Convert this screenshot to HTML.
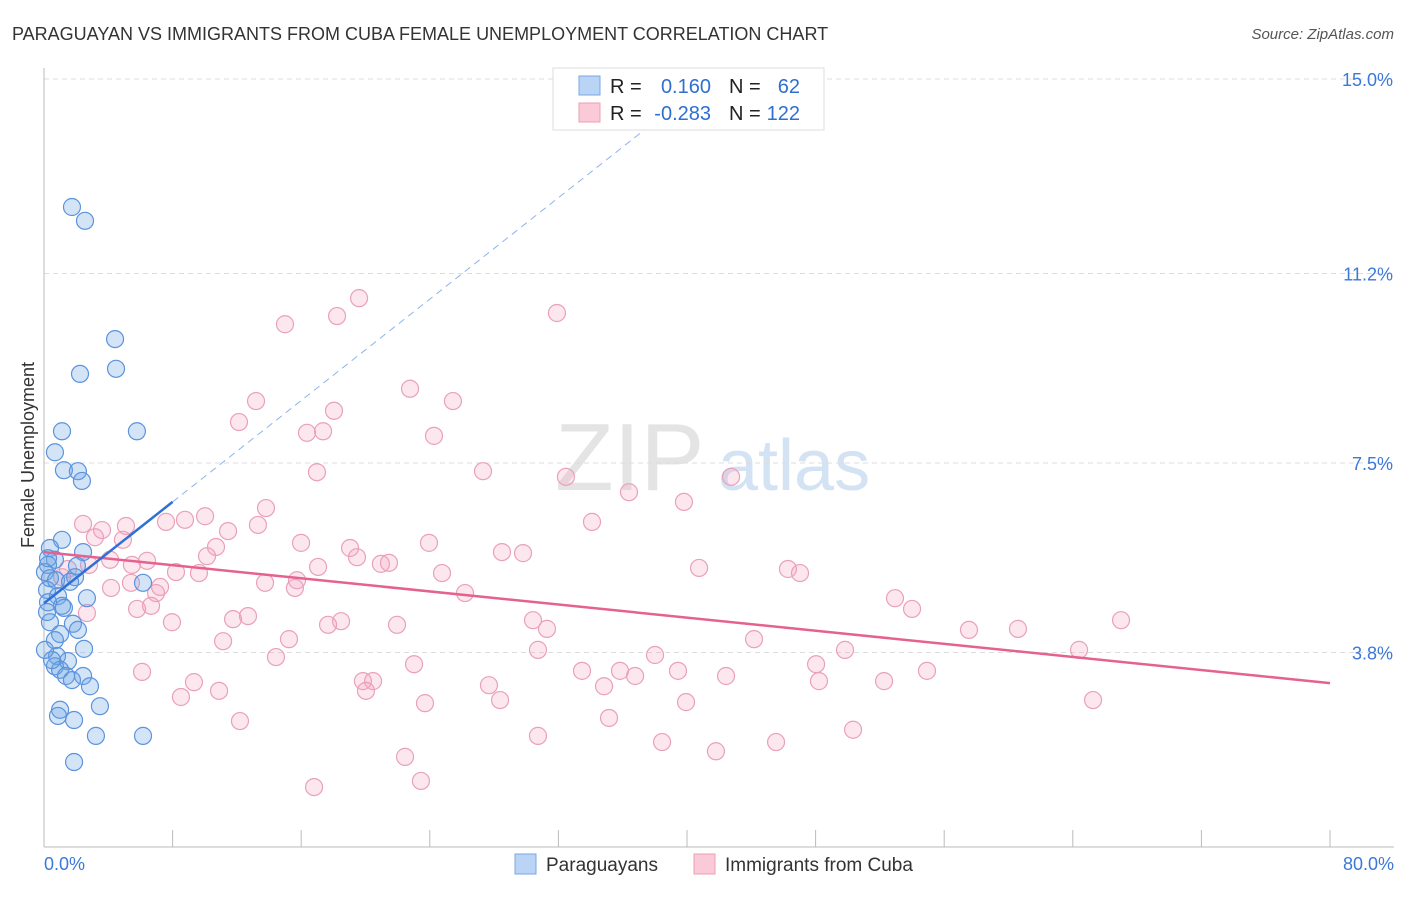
<!DOCTYPE html>
<html><head><meta charset="utf-8"><style>
body{margin:0;background:#fff;font-family:"Liberation Sans",sans-serif;}
svg text{font-family:"Liberation Sans",sans-serif;}
</style></head><body>
<svg id="chart" width="1406" height="892" viewBox="0 0 1406 892" xmlns="http://www.w3.org/2000/svg">
<text x="12" y="40" font-size="18" fill="#333">PARAGUAYAN VS IMMIGRANTS FROM CUBA FEMALE UNEMPLOYMENT CORRELATION CHART</text>
<text x="1394" y="39" font-size="15" fill="#555" text-anchor="end" font-style="italic">Source: ZipAtlas.com</text>
<g>
<text x="555" y="490" font-size="96" fill="#e4e4e4" font-family="Liberation Serif, serif">ZIP</text>
<text x="718" y="490" font-size="72" fill="#d3e3f3">atlas</text>
</g>
<g id="grid"></g>
<g id="axes"></g>
<g id="pts"></g>
<g id="trends"></g>
<text transform="translate(34,455) rotate(-90)" text-anchor="middle" font-size="18" fill="#333">Female Unemployment</text>
<g>
<rect x="553" y="68" width="271" height="62" fill="#fff" stroke="#ddd"/>
<rect x="579" y="76" width="21" height="19" fill="#b9d4f5" stroke="#7aa9e3"/>
<rect x="579" y="103" width="21" height="19" fill="#fbcad8" stroke="#ec9fb7"/>
<text x="610" y="93" font-size="20" fill="#222">R =</text>
<text x="711" y="93" font-size="20" fill="#2e6fd1" text-anchor="end">0.160</text>
<text x="729" y="93" font-size="20" fill="#222">N =</text>
<text x="800" y="93" font-size="20" fill="#2e6fd1" text-anchor="end">62</text>
<text x="610" y="120" font-size="20" fill="#222">R =</text>
<text x="711" y="120" font-size="20" fill="#2e6fd1" text-anchor="end">-0.283</text>
<text x="729" y="120" font-size="20" fill="#222">N =</text>
<text x="800" y="120" font-size="20" fill="#2e6fd1" text-anchor="end">122</text>
</g>
<g>
<rect x="515" y="854" width="21" height="20" fill="#b9d4f5" stroke="#7aa9e3"/>
<text x="546" y="871" font-size="19" fill="#333">Paraguayans</text>
<rect x="694" y="854" width="21" height="20" fill="#fbcad8" stroke="#ec9fb7"/>
<text x="725" y="871" font-size="19" fill="#333">Immigrants from Cuba</text>
</g>
</svg>
<script>
const yTicks=[3.8,7.5,11.2,15.0];
const yTickLabels=["3.8%","7.5%","11.2%","15.0%"];
const xTickValues=[0,8,16,24,32,40,48,56,64,72,80];
const xEndLabels=["0.0%","80.0%"];
const blueX=[1.74,2.55,4.42,4.48,2.24,5.78,1.12,0.68,1.24,2.11,2.36,1.12,0.37,2.43,0.68,0.25,0.06,2.05,1.93,0.37,0.19,0.87,2.67,1.12,0.25,0.37,1.80,1.00,2.11,0.68,2.49,0.81,1.49,0.68,1.00,2.43,1.37,1.74,2.86,3.48,1.00,0.87,1.87,3.23,6.16,1.87,6.16,0.19,0.50,0.06,0.75,0.25,1.62,1.24];
const blueY=[12.50,12.23,9.92,9.34,9.24,8.12,8.12,7.71,7.36,7.34,7.15,6.00,5.84,5.76,5.61,5.51,5.37,5.49,5.27,5.25,5.02,4.90,4.86,4.71,4.78,4.39,4.36,4.16,4.24,4.04,3.87,3.73,3.63,3.53,3.46,3.34,3.34,3.26,3.14,2.75,2.68,2.56,2.48,2.17,2.17,1.66,5.16,4.59,3.65,3.85,5.21,5.64,5.18,4.67];
const pinkX=[19.60,31.91,18.23,14.99,22.77,25.44,13.19,18.04,12.13,17.36,16.36,24.26,16.98,27.31,32.47,42.74,36.39,39.81,13.81,10.02,2.43,8.77,7.59,5.10,3.61,11.45,13.31,34.09,3.17,4.91,23.95,15.99,19.04,10.70,28.49,29.80,10.14,19.47,4.11,6.41,20.96,21.46,5.47,1.49,17.05,8.21,9.64,24.76,40.75,46.28,47.03,1.12,2.80,15.74,13.75,5.41,7.22,4.17,15.61,26.19,6.97,52.94,6.66,5.79,54.00,2.67,12.69,11.76,7.96,18.48,17.67,21.96,30.42,31.29,57.54,60.59,67.00,11.14,15.24,44.17,14.43,23.02,30.73,38.01,49.83,64.39,6.10,33.47,35.83,39.44,42.43,48.03,54.93,19.84,36.77,9.33,20.47,27.68,34.84,48.21,52.26,10.89,8.52,20.03,28.37,39.94,65.26,23.70,35.15,12.19,50.33,30.73,38.45,45.54,41.80,22.46,23.45,16.80];
const pinkY=[10.72,10.43,10.37,10.21,8.95,8.71,8.71,8.52,8.30,8.12,8.09,8.03,7.32,7.34,7.23,7.23,6.93,6.74,6.62,6.46,6.31,6.39,6.35,6.27,6.19,6.17,6.29,6.35,6.05,6.00,5.94,5.94,5.84,5.86,5.76,5.74,5.68,5.66,5.61,5.59,5.53,5.55,5.51,5.43,5.47,5.37,5.35,5.35,5.45,5.43,5.35,5.27,5.51,5.21,5.16,5.16,5.08,5.06,5.06,4.96,4.96,4.86,4.71,4.65,4.65,4.57,4.51,4.45,4.39,4.41,4.34,4.34,4.43,4.26,4.24,4.26,4.43,4.02,4.06,4.06,3.71,3.57,3.85,3.75,3.85,3.85,3.42,3.44,3.44,3.44,3.34,3.57,3.44,3.24,3.34,3.22,3.24,3.16,3.14,3.24,3.24,3.05,2.93,3.05,2.87,2.83,2.87,2.81,2.52,2.46,2.29,2.17,2.05,2.05,1.87,1.76,1.29,1.17];
const blueTrend=[[0,4.76],[8,6.74]];
const blueTrendExt=[[8,6.74],[38.5,14.29]];
const pinkTrend=[[0,5.76],[80,3.20]];

const NS="http://www.w3.org/2000/svg";
const X0=44,X1=1330,Y0=847,PPY=192/3.75;
function sx(v){return X0+(X1-X0)*v/80;}
function sy(v){return Y0-v*PPY;}
function mk(tag,attrs,parent){const e=document.createElementNS(NS,tag);for(const k in attrs)e.setAttribute(k,attrs[k]);parent.appendChild(e);return e;}
const grid=document.getElementById('grid'),axes=document.getElementById('axes'),pts=document.getElementById('pts'),tr=document.getElementById('trends');
yTicks.forEach((t,i)=>{
 const l=mk('line',{x1:X0,x2:1394,y1:sy(t),y2:sy(t),stroke:'#ddd','stroke-dasharray':'5,4'},grid);
 
 
 const tx=mk('text',{x:1393,y:sy(t)+7,'text-anchor':'end','font-size':18,fill:'#3b78d8'},grid);
 tx.textContent=yTickLabels[i];
 
 
});
const ax=mk('line',{x1:X0,x2:X0,y1:68,y2:847,stroke:'#bbb'},axes);


const bx=mk('line',{x1:X0,x2:1394,y1:847,y2:847,stroke:'#bbb'},axes);


xTickValues.forEach(v=>{
 const t=mk('line',{x1:sx(v),x2:sx(v),y1:830,y2:847,stroke:'#bbb'},axes);
 
 
});
const xl0=mk('text',{x:44,y:870,'font-size':18,fill:'#3b78d8'},axes);xl0.textContent=xEndLabels[0];


const xl1=mk('text',{x:1394,y:870,'font-size':18,fill:'#3b78d8','text-anchor':'end'},axes);xl1.textContent=xEndLabels[1];


pinkX.forEach((x,i)=>{
 const c=mk('circle',{cx:sx(x),cy:sy(pinkY[i]),r:8.5,fill:'rgba(244,160,190,0.25)',stroke:'#eaa0ba','stroke-width':1.2},pts);
 
 
});
blueX.forEach((x,i)=>{
 const c=mk('circle',{cx:sx(x),cy:sy(blueY[i]),r:8.5,fill:'rgba(110,165,230,0.3)',stroke:'#5b93dc','stroke-width':1.2},pts);
 
 
});
const pl=mk('line',{x1:sx(pinkTrend[0][0]),y1:sy(pinkTrend[0][1]),x2:sx(pinkTrend[1][0]),y2:sy(pinkTrend[1][1]),stroke:'#e5618f','stroke-width':2.5},tr);


const bd=mk('line',{x1:sx(blueTrendExt[0][0]),y1:sy(blueTrendExt[0][1]),x2:sx(blueTrendExt[1][0]),y2:sy(blueTrendExt[1][1]),stroke:'#8fb4e6','stroke-width':1,'stroke-dasharray':'7,5'},tr);


const bl=mk('line',{x1:sx(blueTrend[0][0]),y1:sy(blueTrend[0][1]),x2:sx(blueTrend[1][0]),y2:sy(blueTrend[1][1]),stroke:'#2f6fd6','stroke-width':2.5},tr);


</script>
</body></html>
